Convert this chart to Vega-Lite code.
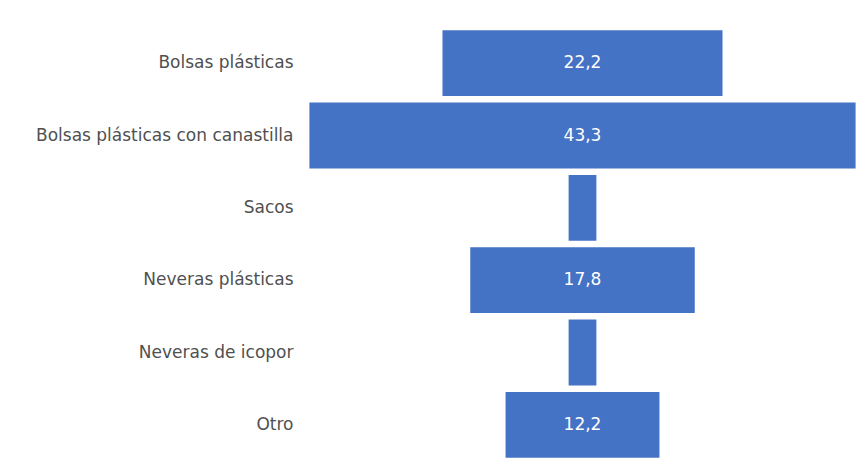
{
  "$schema": "https://vega.github.io/schema/vega-lite/v6.json",
  "width": 555,
  "height": 434,
  "autosize": "none",
  "padding": {"left": 305, "top": 27, "right": 8, "bottom": 10},
  "background": "white",
  "config": {
    "view": {"stroke": null},
    "locale": {"number": {"decimal": ",", "thousands": ".", "grouping": [3], "currency": ["$", ""]}}
  },
  "data": {
    "values": [
      {"categoria": "Bolsas plásticas", "valor": 22.2},
      {"categoria": "Bolsas plásticas con canastilla", "valor": 43.3},
      {"categoria": "Sacos", "valor": 2.2},
      {"categoria": "Neveras plásticas", "valor": 17.8},
      {"categoria": "Neveras de icopor", "valor": 2.2},
      {"categoria": "Otro", "valor": 12.2}
    ]
  },
  "encoding": {
    "y": {
      "field": "categoria",
      "type": "nominal",
      "sort": null,
      "scale": {"paddingInner": 0.09, "paddingOuter": 0.045},
      "axis": {
        "title": null,
        "ticks": false,
        "domain": false,
        "labelPadding": 12,
        "labelFont": "DejaVu Sans",
        "labelFontSize": 17,
        "labelColor": "#505050",
        "labelLimit": 400
      }
    }
  },
  "layer": [
    {
      "mark": {"type": "bar", "color": "#4472C4"},
      "encoding": {
        "x": {
          "field": "valor",
          "type": "quantitative",
          "stack": "center",
          "scale": {"domain": [-0.35, 43.65], "nice": false, "zero": false},
          "axis": null
        }
      }
    },
    {
      "mark": {"type": "text", "color": "white", "font": "DejaVu Sans", "fontSize": 17, "baseline": "middle", "align": "center"},
      "encoding": {
        "x": {"field": "valor", "type": "quantitative", "stack": "center", "bandPosition": 0.5},
        "text": {"field": "valor", "type": "quantitative", "format": ".1f"},
        "opacity": {"condition": {"test": "datum.valor < 5", "value": 0}, "value": 1}
      }
    }
  ]
}
